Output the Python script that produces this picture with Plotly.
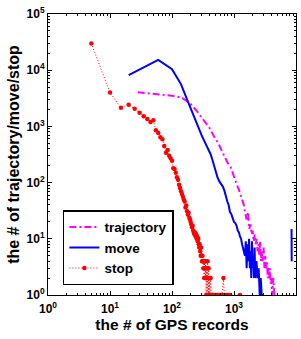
import plotly.graph_objects as go

# ---- data ----
traj_x = [28, 40, 65, 100, 145, 200, 240, 280, 330, 400, 480, 560, 640, 720, 800, 880, 960,
          1040, 1120, 1200, 1280, 1360, 1440, 1520, 1600, 1680, 1760, 1840, 1920, 2000, 2080,
          2160, 2240, 2320, 2400, 2480, 2560, 2640, 2720, 2800, 2900, 3000, 3100, 3200, 3300,
          3400, 3500, 3600, 3700, 3800, 3900, 4000, 4100, 4300, 4500, 4900]
traj_y = [4050, 3900, 3700, 3500, 3250, 2500, 2000, 1600, 1250, 950, 650, 500, 360, 270, 220,
          190, 140, 110, 90, 75, 60, 48, 40, 28, 22, 30, 15, 18, 12, 14, 9, 12, 8, 10, 6, 8,
          5, 9, 4, 6, 4, 7, 3, 5, 3, 4, 2, 3, 2, 3, 1.6, 2, 1, 2, 1, 1]

move_x = [20, 60, 100, 140, 180, 220, 260, 300, 340, 380, 420, 460, 500, 540, 580, 620, 660,
          700, 740, 780, 820, 860, 900, 950, 1000, 1050, 1100, 1150, 1200, 1250, 1300, 1350,
          1400, 1450, 1500, 1550, 1600, 1650, 1700, 1750, 1800, 1850, 1900, 1950, 2000, 2050,
          2100, 2150, 2200, 2300, 2400, 2500, 2600, 2700, 2800, 2900, 3000, 5000, 6900, 7500,
          8480, 8520]
move_y = [8200, 15200, 10400, 5600, 2800, 1600, 1050, 700, 520, 410, 320, 230, 160, 125, 105,
          95, 85, 72, 55, 46, 40, 30, 28, 24, 20, 19, 17, 14, 13, 11, 10, 8, 7, 6, 5, 9, 3, 8,
          4, 10, 3, 6, 2, 9, 3, 5, 2, 7, 2, 4, 2, 3, 1, 2, 1, 1, 1, None, 1, None, 15, 4]

stop_x = [5, 10, 15, 20, 25, 30, 35, 40, 45, 50, 55, 60, 65, 70, 75, 80, 85, 90, 95, 100,
          105, 110, 115, 120, 125, 130, 135, 140, 145, 150, 155, 160, 165, 170, 175, 180, 185,
          190, 195, 200, 205, 210, 215, 220, 225, 230, 235, 240, 245, 250, 255, 260, 265, 270,
          275, 280, 285, 290, 295, 300, 305, 310, 315, 320, 325, 330, 335, 340, 345, 350, 355,
          360, 365, 370, 375, 380, 385, 390, 395, 400, 410, 420, 430, 440, 450, 460, 480, 500,
          520, 540, 560, 600, 640, 675, 700, 750, 800, 850, 1250]
stop_y = [30000, 4000, 2150, 2440, 2060, 1750, 1510, 1350, 1200, 1290, 850, 760, 640, 590, 450,
          340, 380, 300, 270, 245, 180, 175, 150, 125, 112, 92, 80, 70, 63, 56, 50, 46, 36, 39,
          31, 27, 29, 24, 22, 20, 18, 16, 17, 14, 13, 12, 13, 11, 12, 10, 11, 9, 10, 8, 7, 8, 6,
          5, 7, 5, 4, 5, 4, 3, 4, 2, 4, 3, 2, 4, 1, 3, 2, 1, 4, 2, 1, 3, 1, 2, 1, 2, 1, 1, 1, 1,
          1, 1, 1, 1, 1, 1, 1, 2, 1, 1, 1, 1, 1]

tick_vals = [1, 10, 100, 1000, 10000, 100000]
tick_text = ["10<sup>0</sup>", "10<sup>1</sup>", "10<sup>2</sup>", "10<sup>3</sup>",
             "10<sup>4</sup>", "10<sup>5</sup>"]

FONT = "Liberation Sans"

fig = go.Figure()
fig.add_trace(go.Scatter(x=traj_x, y=traj_y, mode="lines", name="trajectory",
                         line=dict(color="#FF00FF", width=2, dash="7px,3px,2px,3px")))
fig.add_trace(go.Scatter(x=move_x, y=move_y, mode="lines", name="move",
                         line=dict(color="#0000FF", width=2)))
fig.add_trace(go.Scatter(x=stop_x, y=stop_y, mode="lines+markers", name="stop",
                         line=dict(color="#FF0000", width=1, dash="1px,2px"),
                         marker=dict(color="#FF0000", size=4.5)))

axis_common = dict(
    type="log", showline=True, linecolor="black", linewidth=1, mirror="ticks",
    ticks="inside", ticklen=4, tickcolor="black", showgrid=False, zeroline=False,
    tickvals=tick_vals, ticktext=tick_text, automargin=False,
    minor=dict(ticks="inside", ticklen=2, tickcolor="black", dtick="D1", showgrid=False),
    tickfont=dict(family=FONT, size=12, color="black", weight="bold"),
)

fig.update_xaxes(**axis_common, range=[0, 4], ticklabelstandoff=3,
                 title=dict(text="the # of GPS records", standoff=2,
                            font=dict(family=FONT, size=15.5, color="black", weight="bold")))
fig.update_yaxes(**axis_common, range=[0, 5],
                 title=dict(text="the # of trajectory/move/stop", standoff=2,
                            font=dict(family=FONT, size=16, color="black", weight="bold")))

fig.update_layout(
    width=301, height=339,
    margin=dict(l=48, r=5, t=14, b=44),
    paper_bgcolor="white", plot_bgcolor="white",
    showlegend=True,
    legend=dict(x=0.06, y=0.035, xanchor="left", yanchor="bottom",
                bgcolor="white", bordercolor="black", borderwidth=1.5,
                font=dict(family=FONT, size=13.5, color="black", weight="bold"),
                tracegroupgap=0, itemwidth=30),
)

fig.write_html("out.html", config={"displayModeBar": False},
               post_script="document.body.style.margin='0';")
